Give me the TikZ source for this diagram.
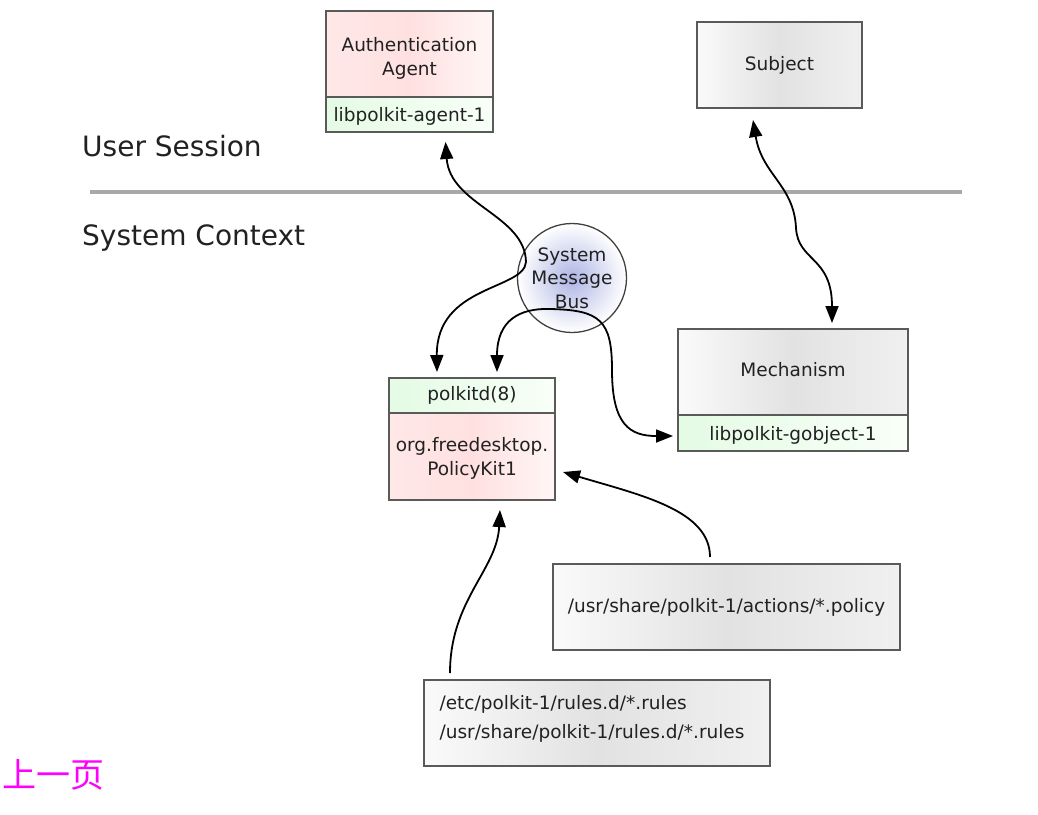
\documentclass[tikz,border=0pt]{standalone}
\usepackage{fontspec}
\setmainfont{DejaVu Sans}
\newfontfamily\cjk{Noto Sans CJK SC}
\usetikzlibrary{positioning,arrows.meta}

\definecolor{boxline}{HTML}{5A5A5A}
\definecolor{pinkL}{HTML}{FFE8E8}
\definecolor{pinkM}{HTML}{FFE0E0}
\definecolor{pinkR}{HTML}{FFF6F6}
\definecolor{greenL}{HTML}{E4FBE4}
\definecolor{greenR}{HTML}{F8FFF8}
\definecolor{grayL}{HTML}{FAFAFA}
\definecolor{grayM}{HTML}{E2E2E2}
\definecolor{grayR}{HTML}{F0F0F0}
\definecolor{busC}{HTML}{AEB4E4}
\definecolor{sepline}{HTML}{A8A8A8}
\definecolor{prevpage}{HTML}{FF00FF}

\begin{document}
\begin{tikzpicture}[
		x=1pt, y=-1pt,
		every node/.style={font=\fontsize{18.5}{24}\selectfont, inner sep=0pt, text=black!87},
		box/.style={rectangle, draw=boxline, line width=1.3pt, outer sep=0pt, align=center},
		pinkbox/.style={box, left color=pinkL, right color=pinkR, middle color=pinkM},
		greenbox/.style={box, left color=greenL, right color=greenR, minimum height=35pt},
		graybox/.style={box, left color=grayL, right color=grayR, middle color=grayM, minimum height=86pt},
		sectiontitle/.style={anchor=west, font=\fontsize{28}{34}\selectfont},
		link/.style={line width=1.8pt, {Triangle[length=17pt,width=13pt]}-{Triangle[length=17pt,width=13pt]}},
		feed/.style={line width=1.8pt, -{Triangle[length=17pt,width=13pt]}}
		]
		\useasboundingbox (0,0) rectangle (1038,814);
		
		\node[pinkbox, minimum width=167pt, minimum height=86pt, text height=46pt] (agent) at (409.5,54) {Authentication\\Agent};
		\node[greenbox, minimum width=167pt, below=0pt of agent, text height=18pt] (agentlib) {libpolkit-agent-1};
		\node[graybox, minimum width=165pt] (subject) at (779.5,65) {Subject};
		
		\draw[sepline, line width=4.5pt] (90,192) -- (962,192);
		\node[sectiontitle] (user) at (82,146) {User Session};
		\node[sectiontitle] (system) at (82,238) {System Context};
		
		\node[circle, draw=black!75, line width=1.3pt, inner color=busC, outer color=white,
			minimum size=109pt, align=center, font=\fontsize{18.5}{23.5}\selectfont] (bus) at (572,278) {System\\Message\\Bus};
		
		\node[greenbox, minimum width=166pt] (polkitd) at (472,395.5) {polkitd(8)};
		\node[pinkbox, minimum width=166pt, minimum height=87pt, below=0pt of polkitd, text height=42pt] (policykit) {org.freedesktop.\\PolicyKit1};
		
		\node[graybox, minimum width=230pt, text depth=6pt] (mech) at (793,372) {Mechanism};
		\node[greenbox, minimum width=230pt, minimum height=36pt, below=0pt of mech, text height=18pt] (mechlib) {libpolkit-gobject-1};
		
		\node[graybox, minimum width=347pt] (actions) at (726.5,607) {/usr/share/polkit-1/actions/*.policy};
		\node[graybox, minimum width=346pt, align=left, font=\fontsize{18.5}{29}\selectfont, text depth=13pt] (rules) at (597,723)
			{/etc/polkit-1/rules.d/*.rules\\/usr/share/polkit-1/rules.d/*.rules\hspace*{10pt}};
		
		\node[anchor=west, font=\cjk\fontsize{34}{40}\selectfont, text=prevpage] (prev) at (2,775) {上一页};
		
		\draw[link] ([xshift=36pt,yshift=-10pt]agentlib.south) .. controls (450,205) and (525,215) .. (526,262)
			.. controls (524,290) and (436,285) .. ([xshift=-35pt,yshift=6pt]polkitd.north);
		\draw[link] ([xshift=25pt,yshift=6pt]polkitd.north) .. controls (497,320) and (520,308) .. (550,309)
			.. controls (600,310) and (612,320) .. (612,370)
			.. controls (612,425) and (630,436) .. ([xshift=-5pt,yshift=-3pt]mechlib.west);
		\draw[link] ([xshift=-26.5pt,yshift=-12pt]subject.south) .. controls (762,175) and (794,185) .. (796,228)
			.. controls (798,262) and (832,256) .. ([xshift=39pt,yshift=6pt]mech.north);
		\draw[feed] ([xshift=-16.5pt,yshift=7pt]actions.north) .. controls (710,510) and (640,495) .. ([xshift=8pt,yshift=-15.5pt]policykit.east);
		\draw[feed] ([xshift=-147pt,yshift=7pt]rules.north) .. controls (450,600) and (497,570) .. ([xshift=28pt,yshift=-10pt]policykit.south);
	\end{tikzpicture}
\end{document}
